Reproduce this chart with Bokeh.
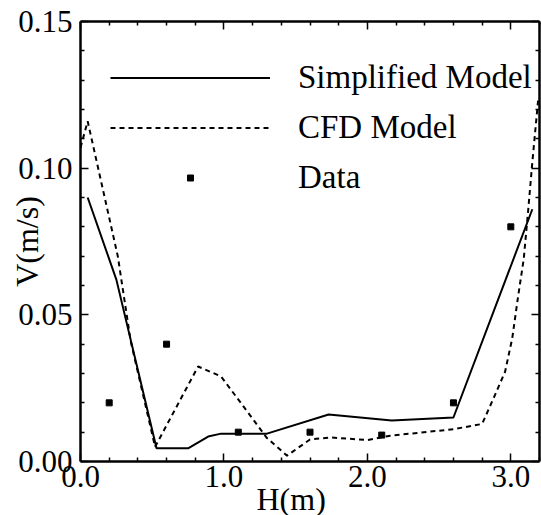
import math
from bokeh.plotting import figure
from bokeh.models import (Range1d, LinearAxis, FixedTicker, PrintfTickFormatter,
                          CustomJSTickFormatter, Legend, LegendItem, Title)
from bokeh.embed import file_html
from bokeh.resources import INLINE

# ---- data ----
simp_h = [0.05, 0.25, 0.53, 0.75, 0.89, 0.98, 1.30, 1.73, 2.17, 2.60, 3.15]
simp_v = [0.090, 0.062, 0.0045, 0.0045, 0.0085, 0.0095, 0.0095, 0.016, 0.014, 0.015, 0.086]

cfd_h = [0.0, 0.05, 0.26, 0.35, 0.52, 0.82, 0.98, 1.30, 1.44, 1.60, 1.74, 2.00, 2.16,
         2.60, 2.80, 2.89, 2.96, 3.01, 3.05, 3.09, 3.12, 3.15, 3.19]
cfd_v = [0.107, 0.116, 0.070, 0.041, 0.005, 0.0324, 0.029, 0.008, 0.002, 0.0075, 0.0082,
         0.0073, 0.0088, 0.011, 0.0128, 0.0227, 0.0306, 0.042, 0.056, 0.069, 0.085, 0.102, 0.123]

data_h = [0.2, 0.6, 1.1, 1.6, 2.1, 2.6, 3.0]
data_v = [0.02, 0.04, 0.01, 0.01, 0.009, 0.02, 0.08]

x_major = [0.0, 1.0, 2.0, 3.0]
x_minor = [0.2, 0.4, 0.6, 0.8, 1.2, 1.4, 1.6, 1.8, 2.2, 2.4, 2.6, 2.8, 3.2]
y_major = [0.0, 0.05, 0.10, 0.15]
y_minor = [0.01, 0.02, 0.03, 0.04, 0.06, 0.07, 0.08, 0.09, 0.11, 0.12, 0.13, 0.14]

series_names = ["Simplified Model", "CFD Model", "Data"]
x_label = "H(m)"
y_label = "V(m/s)"

FONT = "Liberation Serif"

p = figure(width=541, height=515, output_backend="svg", toolbar_location=None,
           x_range=Range1d(0, 3.2), y_range=Range1d(0, 0.15),
           x_axis_location=None, y_axis_location=None,
           min_border_left=80, min_border_right=2, min_border_top=21, min_border_bottom=54)
p.outline_line_color = None
p.xgrid.visible = False
p.ygrid.visible = False
p.background_fill_color = "white"
p.border_fill_color = "white"


def make_axis(ticks, minor, fmt, show_labels):
    ax = LinearAxis(ticker=FixedTicker(ticks=ticks, minor_ticks=minor))
    ax.axis_line_width = 2.5
    ax.axis_line_color = "black"
    ax.major_tick_in = 8
    ax.major_tick_out = 0
    ax.minor_tick_in = 4
    ax.minor_tick_out = 0
    ax.major_tick_line_width = 1.5
    ax.minor_tick_line_width = 1.5
    if show_labels:
        ax.formatter = PrintfTickFormatter(format=fmt)
        ax.major_label_text_font = FONT
        ax.major_label_text_font_size = "31px"
        ax.major_label_text_color = "black"
        ax.axis_label_text_font = FONT
        ax.axis_label_text_font_size = "32px"
        ax.axis_label_text_font_style = "normal"
        ax.axis_label_text_color = "black"
    else:
        ax.formatter = CustomJSTickFormatter(code="return ''")
        ax.major_label_text_font_size = "0px"
        ax.major_label_standoff = 0
    return ax


xb = make_axis(x_major, x_minor, "%.1f", True)
xb.major_label_standoff = 4
yl = make_axis(y_major, y_minor, "%.2f", True)
yl.major_label_standoff = 8
yl.axis_label = y_label
yl.axis_label_standoff = -30
xt = make_axis(x_major, x_minor, "", False)
yr = make_axis(y_major, y_minor, "", False)
p.add_layout(xb, "below")
p.add_layout(yl, "left")
p.add_layout(xt, "above")
p.add_layout(yr, "right")

# x-axis caption, placed as a title under the axis (left of the frame centre)
xcap = Title(text=x_label, align="left", vertical_align="bottom", offset=176,
             standoff=-22, text_font=FONT, text_font_size="32px",
             text_font_style="normal", text_color="black")
p.add_layout(xcap, "below")

r1 = p.line(simp_h, simp_v, line_color="black", line_width=2)
r2 = p.line(cfd_h, cfd_v, line_color="black", line_width=2, line_dash="5 4")
r3 = p.scatter(data_h, data_v, marker="square", size=6, color="black")

legend = Legend(items=[LegendItem(label=series_names[0], renderers=[r1]),
                       LegendItem(label=series_names[1], renderers=[r2]),
                       LegendItem(label=series_names[2], renderers=[r3])],
                location=(30, 261))
legend.glyph_width = 160
legend.glyph_height = 15
legend.label_height = 46
legend.spacing = 4
legend.padding = 0
legend.margin = 0
legend.label_standoff = 28
legend.label_text_font = FONT
legend.label_text_font_size = "33px"
legend.label_text_color = "black"
legend.border_line_color = None
legend.background_fill_alpha = 0
p.add_layout(legend, "center")

open("out.html", "w").write(file_html(p, INLINE))
